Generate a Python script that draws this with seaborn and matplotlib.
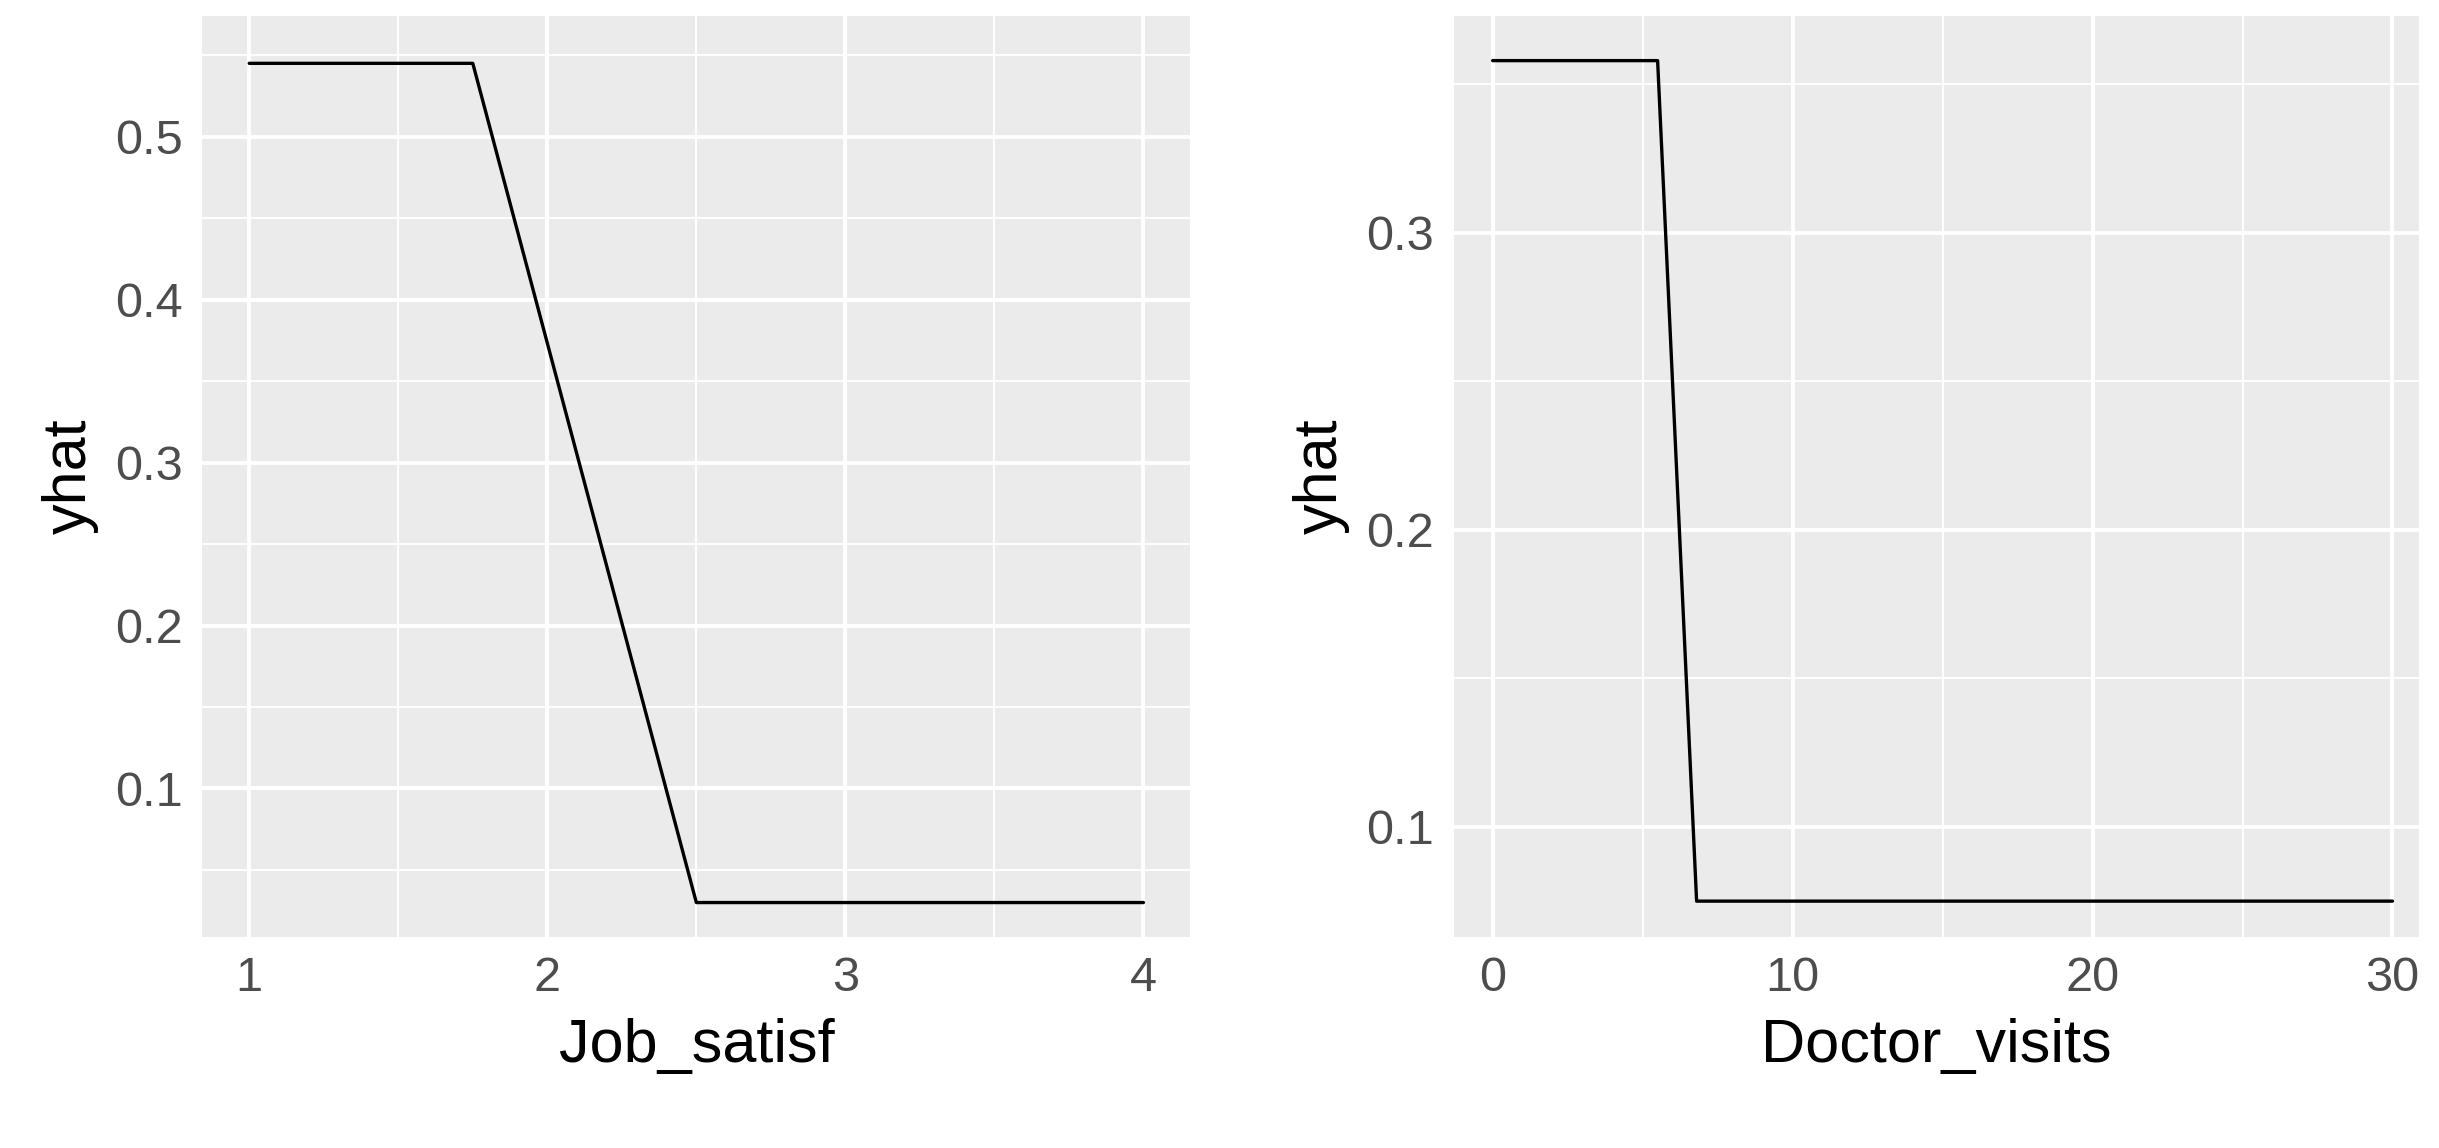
import seaborn as sns
import matplotlib.pyplot as plt
import pandas as pd
from matplotlib.ticker import MultipleLocator

job_x = [1, 1.75, 2.5, 4]
job_yhat = [0.545, 0.545, 0.03, 0.03]
doc_x = [0, 5.5, 6.8, 30]
doc_yhat = [0.358, 0.358, 0.075, 0.075]

sns.set_style('darkgrid', {'axes.facecolor': '#EBEBEB', 'grid.color': 'white'})
plt.rcParams['font.family'] = ['Liberation Sans', 'DejaVu Sans']

fig = plt.figure(figsize=(24.39, 11.48), dpi=100)
ax1 = fig.add_axes([0.083, 0.184, 0.405, 0.802])
ax2 = fig.add_axes([0.596, 0.184, 0.396, 0.802])

def style(ax, xlab, xmaj, xmin, ymaj, ymin):
    ax.xaxis.set_major_locator(MultipleLocator(xmaj))
    ax.xaxis.set_minor_locator(MultipleLocator(xmin))
    ax.yaxis.set_major_locator(MultipleLocator(ymaj))
    ax.yaxis.set_minor_locator(MultipleLocator(ymin))
    ax.grid(which='major', color='white', linewidth=2.8)
    ax.grid(which='minor', color='white', linewidth=1.4)
    for s in ax.spines.values():
        s.set_visible(False)
    ax.tick_params(which='major', length=8, width=1.6, color='#333333', labelsize=35,
                   labelcolor='#4D4D4D', pad=6)
    ax.tick_params(which='minor', length=0)
    ax.set_xlabel(xlab, fontsize=44, color='black', labelpad=12)
    ax.set_ylabel('yhat', fontsize=44, color='black', labelpad=12)

sns.lineplot(x=job_x, y=job_yhat, ax=ax1, color='black', linewidth=2.4)
ax1.set_xlim(0.843, 4.157)
ax1.set_ylim(0.009, 0.574)
style(ax1, 'Job_satisf', 1, 0.5, 0.1, 0.05)

sns.lineplot(x=doc_x, y=doc_yhat, ax=ax2, color='black', linewidth=2.4)
ax2.set_xlim(-1.3, 30.9)
ax2.set_ylim(0.063, 0.373)
style(ax2, 'Doctor_visits', 10, 5, 0.1, 0.05)

fig.savefig('out.png', dpi=100)
